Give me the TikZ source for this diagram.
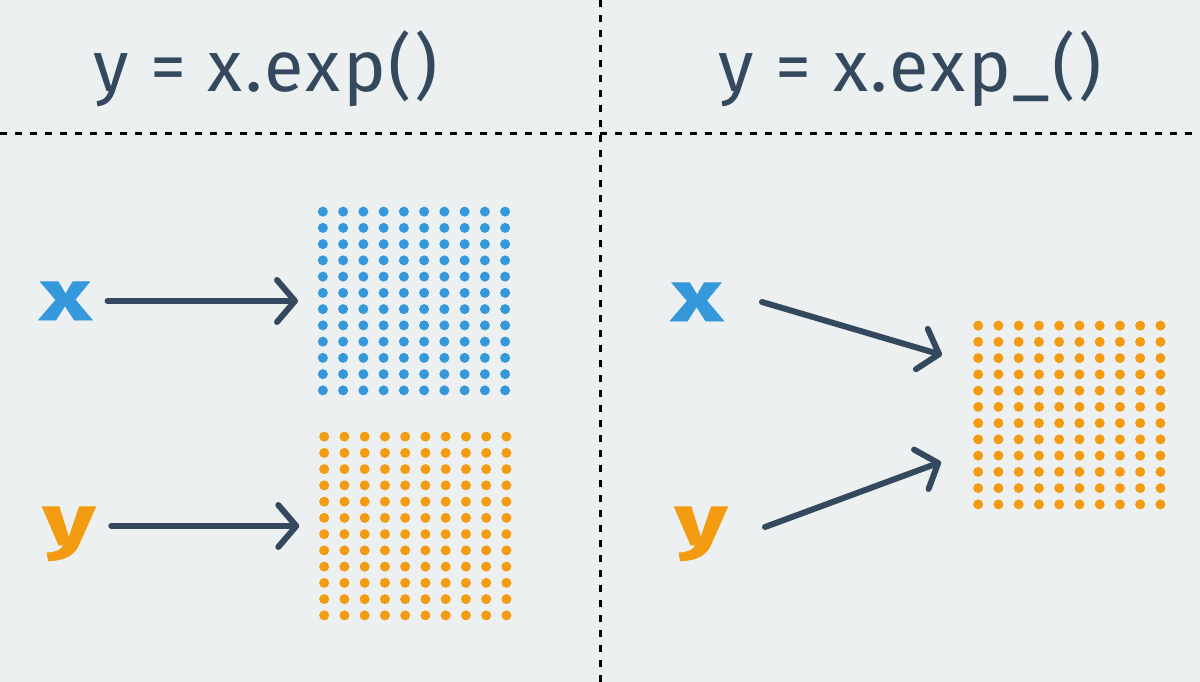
\documentclass[tikz,border=0pt]{standalone}
\usepackage{fontspec}
\setmainfont{Fira Sans}
\newfontfamily\titlefont{Fira Sans}[LetterSpace=3.5]
\newfontfamily\lblfont{Fira Sans}[BoldFeatures={FakeStretch=1.4, FakeBold=0.8}]
\usetikzlibrary{arrows.meta}
\definecolor{bg}{HTML}{ECF0F1}
\definecolor{dark}{HTML}{34495E}
\definecolor{xblue}{HTML}{3498DB}
\definecolor{yorange}{HTML}{F39C12}
\begin{document}
\begin{tikzpicture}[x=1pt,y=-1pt,
  title/.style={text=dark, font=\titlefont\fontsize{72}{80}\selectfont, inner sep=0pt, anchor=base},
  lbl/.style={font=\lblfont\fontsize{72}{80}\selectfont\bfseries, inner sep=0pt, anchor=base},
  arr/.style={draw=dark, line width=6pt, line cap=round, -{Straight Barb[length=18pt,width=42pt,round]}},
  sepline/.style={draw=black, line width=3pt, dash pattern=on 7pt off 8pt},
  gridbox/.style={minimum width=192pt, minimum height=189pt, inner sep=0pt, outer sep=20pt}
]
\fill[bg] (0,0) rectangle (1200,682);
\useasboundingbox (0,0) rectangle (1200,682);
% separators
\draw[sepline] (0,134) -- (1200,134);
\draw[sepline] (600,0) -- (600,682);
% titles
\node[title] (t1) at (265.5,92) {y = x.exp()};
\node[title] (t2) at (910,92) {y = x.exp\_()};
% labels
\node[lbl, text=xblue] (xl) at (65.5,320) {x};
\node[lbl, text=yorange] (yl) at (69,545) {y};
\node[lbl, text=xblue] (xr) at (697,321) {x};
\node[lbl, text=yorange] (yr) at (701,545) {y};
% grids
\node[gridbox] (g1) at (414,301) {};
\node[gridbox] (g2) at (415.3,526) {};
\node[gridbox] (g3) at (1069.3,415) {};
\foreach \g/\c in {g1/xblue,g2/yorange,g3/yorange}{
  \begin{scope}[shift={(\g.center)}]
    \foreach \i in {0,...,9}
      \foreach \j in {0,...,11}
        \fill[\c] (\i*20.25-91.125, \j*16.25-89.375) circle (5);
  \end{scope}
}
% arrows
\draw[arr] ([xshift=16pt]xl.east |- g1) -- (g1);
\draw[arr] ([xshift=16pt]yl.east |- g2) -- (g2);
\coordinate (xs) at (762,302);
\coordinate (xt) at (942,355);
\coordinate (ys) at (765,527);
\coordinate (yt) at (941,462);
\draw[arr] (xs) -- (xt);
\draw[arr] (ys) -- (yt);
\end{tikzpicture}
\end{document}
